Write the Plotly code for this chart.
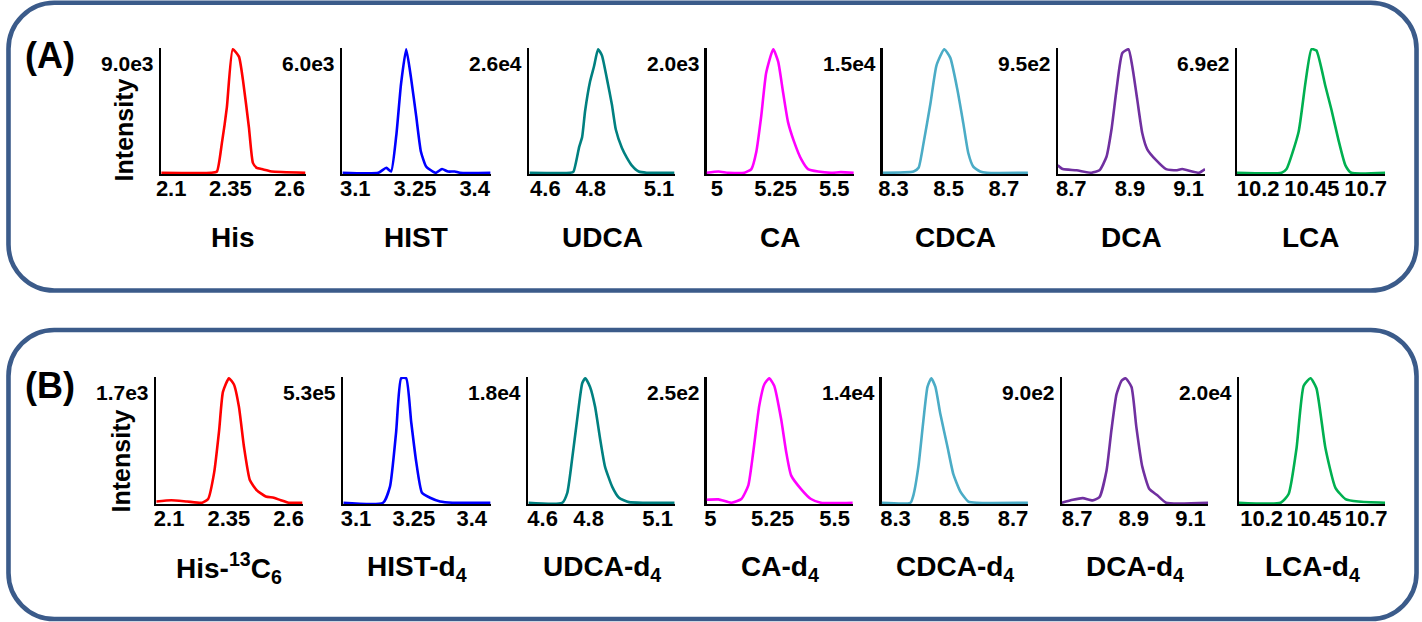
import plotly.graph_objects as go

# ---------------- data (retention time in min, intensity in % of max) ----------------
# Panel A: analytes
his_rt = [2.058, 2.268, 2.293, 2.314, 2.335, 2.360, 2.386, 2.403, 2.428, 2.445, 2.461, 2.482, 2.503, 2.524, 2.667]
his_int = [0, 0, 1, 24, 53, 100, 94, 75, 37, 8, 4, 3, 2, 1, 0]

hist_rt = [3.068, 3.158, 3.178, 3.190, 3.203, 3.215, 3.228, 3.240, 3.253, 3.265, 3.278, 3.295, 3.303, 3.318, 3.333, 3.350, 3.363, 3.440]
hist_int = [0, 0, 4, 1, 30, 72, 100, 77, 46, 17, 5, 1, 0, 3, 1, 1, 0, 0]

udca_rt = [4.530, 4.709, 4.724, 4.749, 4.762, 4.775, 4.797, 4.814, 4.832, 4.849, 4.871, 4.893, 4.910, 4.937, 4.959, 4.980, 5.011, 5.046, 5.168]
udca_int = [0, 0, 1, 21, 29, 50, 74, 86, 100, 95, 76, 55, 35, 20, 12, 6, 1, 0, 0]

ca_rt = [4.956, 5.007, 5.049, 5.117, 5.147, 5.168, 5.189, 5.210, 5.240, 5.261, 5.282, 5.303, 5.329, 5.359, 5.388, 5.431, 5.486, 5.528, 5.583]
ca_int = [0, 1, 0, 0, 3, 17, 46, 81, 100, 90, 65, 41, 25, 11, 3, 1, 0, 0.5, 0]

cdca_rt = [8.261, 8.373, 8.391, 8.409, 8.434, 8.456, 8.484, 8.506, 8.531, 8.553, 8.571, 8.589, 8.614, 8.639, 8.787]
cdca_int = [0, 1, 4, 24, 56, 87, 100, 93, 68, 40, 16, 5, 1, 0, 0]

dca_rt = [8.654, 8.671, 8.718, 8.769, 8.796, 8.820, 8.837, 8.854, 8.874, 8.895, 8.908, 8.925, 8.942, 8.959, 8.990, 9.023, 9.057, 9.078, 9.112, 9.135, 9.156]
dca_int = [6, 3, 2, 0, 2, 13, 35, 67, 97, 100, 86, 59, 32, 19, 10, 3, 2, 3, 1, 0, 3]

lca_rt = [10.101, 10.309, 10.332, 10.388, 10.420, 10.448, 10.471, 10.513, 10.541, 10.573, 10.606, 10.633, 10.791]
lca_int = [0, 0, 3, 33, 73, 100, 99, 70, 51, 27, 6, 0, 0]

# Panel B: internal standards
his13c_rt = [2.046, 2.109, 2.175, 2.238, 2.263, 2.288, 2.309, 2.325, 2.350, 2.371, 2.392, 2.413, 2.438, 2.467, 2.504, 2.538, 2.567, 2.600, 2.658]
his13c_int = [1, 2, 1, 0, 3, 24, 58, 89, 100, 95, 77, 45, 18, 10, 5, 4, 2, 0, 0]

histd4_rt = [3.067, 3.170, 3.188, 3.204, 3.217, 3.230, 3.243, 3.256, 3.271, 3.292, 3.318, 3.351, 3.449]
histd4_int = [0, 0, 13, 57, 100, 100, 65, 33, 8, 4, 1, 0, 0]

udcad4_rt = [4.538, 4.685, 4.707, 4.728, 4.750, 4.772, 4.785, 4.806, 4.828, 4.850, 4.871, 4.902, 4.932, 4.975, 5.045, 5.174]
udcad4_int = [0, 0, 8, 35, 67, 96, 100, 93, 77, 51, 29, 13, 4, 0.5, 0, 0]

cad4_rt = [4.985, 5.033, 5.085, 5.125, 5.153, 5.173, 5.197, 5.217, 5.237, 5.257, 5.285, 5.305, 5.325, 5.365, 5.405, 5.445, 5.573]
cad4_int = [2.4, 2.7, 0, 3, 14, 41, 78, 95, 100, 94, 67, 41, 22, 11, 3, 0, 0]

cdcad4_rt = [8.253, 8.351, 8.361, 8.378, 8.395, 8.409, 8.422, 8.436, 8.453, 8.477, 8.497, 8.521, 8.548, 8.578, 8.751]
cdcad4_int = [0, 0, 6, 29, 66, 93, 100, 93, 71, 45, 23, 9, 1, 0, 0]

dcad4_rt = [8.646, 8.685, 8.720, 8.755, 8.779, 8.804, 8.821, 8.839, 8.857, 8.871, 8.892, 8.909, 8.930, 8.955, 8.983, 9.014, 9.162]
dcad4_int = [0, 2.4, 3.7, 1.9, 4.5, 26, 58, 87, 98, 100, 93, 61, 29, 11, 6, 0, 0]

lcad4_rt = [10.091, 10.291, 10.329, 10.367, 10.401, 10.434, 10.462, 10.505, 10.553, 10.601, 10.662, 10.791]
lcad4_int = [0, 0, 7, 44, 94, 100, 92, 44, 12, 3, 1, 0]

names_a = ["His", "HIST", "UDCA", "CA", "CDCA", "DCA", "LCA"]
names_b = ["His-<sup>13</sup>C<sub>6</sub>", "HIST-d<sub>4</sub>", "UDCA-d<sub>4</sub>", "CA-d<sub>4</sub>",
           "CDCA-d<sub>4</sub>", "DCA-d<sub>4</sub>", "LCA-d<sub>4</sub>"]
max_a = ["9.0e3", "6.0e3", "2.6e4", "2.0e3", "1.5e4", "9.5e2", "6.9e2"]
max_b = ["1.7e3", "5.3e5", "1.8e4", "2.5e2", "1.4e4", "9.0e2", "2.0e4"]
tick_vals = [[2.1, 2.35, 2.6], [3.1, 3.25, 3.4], [4.6, 4.8, 5.1], [5, 5.25, 5.5],
             [8.3, 8.5, 8.7], [8.7, 8.9, 9.1], [10.2, 10.45, 10.7]]
tick_text = [["2.1", "2.35", "2.6"], ["3.1", "3.25", "3.4"], ["4.6", "4.8", "5.1"], ["5", "5.25", "5.5"],
             ["8.3", "8.5", "8.7"], ["8.7", "8.9", "9.1"], ["10.2", "10.45", "10.7"]]

series_a = [(his_rt, his_int), (hist_rt, hist_int), (udca_rt, udca_int), (ca_rt, ca_int),
            (cdca_rt, cdca_int), (dca_rt, dca_int), (lca_rt, lca_int)]
series_b = [(his13c_rt, his13c_int), (histd4_rt, histd4_int), (udcad4_rt, udcad4_int), (cad4_rt, cad4_int),
            (cdcad4_rt, cdcad4_int), (dcad4_rt, dcad4_int), (lcad4_rt, lcad4_int)]
colors = ["#FF0000", "#0000FF", "#008080", "#FF00FF", "#4BACC6", "#7030A0", "#00B050"]

# ---------------- layout geometry ----------------
W, H = 1422, 622
FONT = "Liberation Sans, Arial, sans-serif"
px_a = [(157, 302), (339, 488), (527, 673), (705, 853), (882, 1028), (1058, 1206), (1238, 1387)]
px_b = [(152, 299), (340, 488), (526, 673), (705, 852), (881, 1028), (1062, 1209), (1240, 1387)]
xr_a = [(2.058, 2.667), (3.0675, 3.44), (4.530, 5.169), (4.956, 5.583), (8.261, 8.787), (8.654, 9.156), (10.101, 10.791)]
xr_b = [(2.046, 2.658), (3.067, 3.449), (4.538, 5.174), (4.985, 5.573), (8.253, 8.751), (8.646, 9.162), (10.091, 10.791)]
ydom_a = [1 - 174 / H, 1 - 48 / H]
ydom_b = [1 - 504 / H, 1 - 377 / H]

fig = go.Figure()
layout = {}
annotations = []

panels = [(series_a, px_a, xr_a, ydom_a, names_a, max_a, 238),
          (series_b, px_b, xr_b, ydom_b, names_b, max_b, 568)]
k = 0
for series, pxs, xrs, ydom, names, maxs, name_y in panels:
    for i in range(7):
        k += 1
        xs, ys = series[i]
        xa = "x" if k == 1 else f"x{k}"
        ya = "y" if k == 1 else f"y{k}"
        fig.add_trace(go.Scatter(x=xs, y=ys, mode="lines", xaxis=xa, yaxis=ya,
                                 line=dict(color=colors[i], width=2.6, shape="spline", smoothing=0.5),
                                 showlegend=False, hoverinfo="skip"))
        x0, x1 = pxs[i]
        layout[f"xaxis{k}"] = dict(domain=[x0 / W, x1 / W], anchor=ya, range=list(xrs[i]),
                                   showgrid=False, zeroline=False, showline=True, linecolor="black",
                                   linewidth=2.2, ticks="", ticklen=0, ticklabelstandoff=-7,
                                   tickvals=tick_vals[i], ticktext=tick_text[i],
                                   tickfont=dict(family=FONT, size=22, color="black", weight="bold"),
                                   layer="below traces", fixedrange=True)
        layout[f"yaxis{k}"] = dict(domain=ydom, anchor=xa, range=[-1, 101], showgrid=False,
                                   zeroline=False, showline=True, linecolor="black", linewidth=2.2,
                                   showticklabels=False, ticks="", layer="below traces", fixedrange=True)
        annotations.append(dict(text=f"<b>{maxs[i]}</b>", xref=f"{xa} domain", yref=f"{ya} domain",
                                x=0, y=1, xanchor="right", yanchor="top", xshift=-5, yshift=-2,
                                showarrow=False, font=dict(family=FONT, size=21, color="black")))
        annotations.append(dict(text=f"<b>{names[i]}</b>", xref="paper", yref="paper",
                                x=(x0 + x1) / 2 / W, y=1 - name_y / H, xanchor="center", yanchor="middle",
                                showarrow=False, font=dict(family=FONT, size=28, color="black")))

for lab, cx, cy in [("(A)", 45, 56), ("(B)", 45, 385)]:
    annotations.append(dict(text=f"<b>{lab}</b>", xref="paper", yref="paper", x=cx / W, y=1 - cy / H,
                            xanchor="center", yanchor="middle", showarrow=False,
                            font=dict(family=FONT, size=36, color="black")))
for cx, cy in [(120, 130), (117, 461)]:
    annotations.append(dict(text="<b>Intensity</b>", xref="paper", yref="paper", x=cx / W, y=1 - cy / H,
                            xanchor="center", yanchor="middle", textangle=-90, showarrow=False,
                            font=dict(family=FONT, size=25, color="black")))


def rounded_rect(left, top, right, bottom, r):
    kk = 0.4477
    L, R = left / W, right / W
    T, B = 1 - top / H, 1 - bottom / H
    rx, ry = r / W, r / H
    return (f"M {L + rx},{T} L {R - rx},{T} "
            f"C {R - rx * kk},{T} {R},{T - ry * kk} {R},{T - ry} "
            f"L {R},{B + ry} C {R},{B + ry * kk} {R - rx * kk},{B} {R - rx},{B} "
            f"L {L + rx},{B} C {L + rx * kk},{B} {L},{B + ry * kk} {L},{B + ry} "
            f"L {L},{T - ry} C {L},{T - ry * kk} {L + rx * kk},{T} {L + rx},{T} Z")


shapes = [dict(type="path", xref="paper", yref="paper", path=rounded_rect(3.5, 2.8, 1418.5, 290.5, 46),
               line=dict(color="#3B5B8A", width=4.6), layer="below"),
          dict(type="path", xref="paper", yref="paper", path=rounded_rect(3.5, 330, 1418.5, 619, 46),
               line=dict(color="#3B5B8A", width=4.6), layer="below")]

fig.update_layout(width=W, height=H, margin=dict(l=0, r=0, t=0, b=0), paper_bgcolor="white",
                  plot_bgcolor="rgba(0,0,0,0)", annotations=annotations, shapes=shapes,
                  font=dict(family=FONT), **layout)

fig.write_html("out.html", config={"displayModeBar": False, "staticPlot": True},
               post_script="document.body.style.margin='0';document.body.style.overflow='hidden';")
